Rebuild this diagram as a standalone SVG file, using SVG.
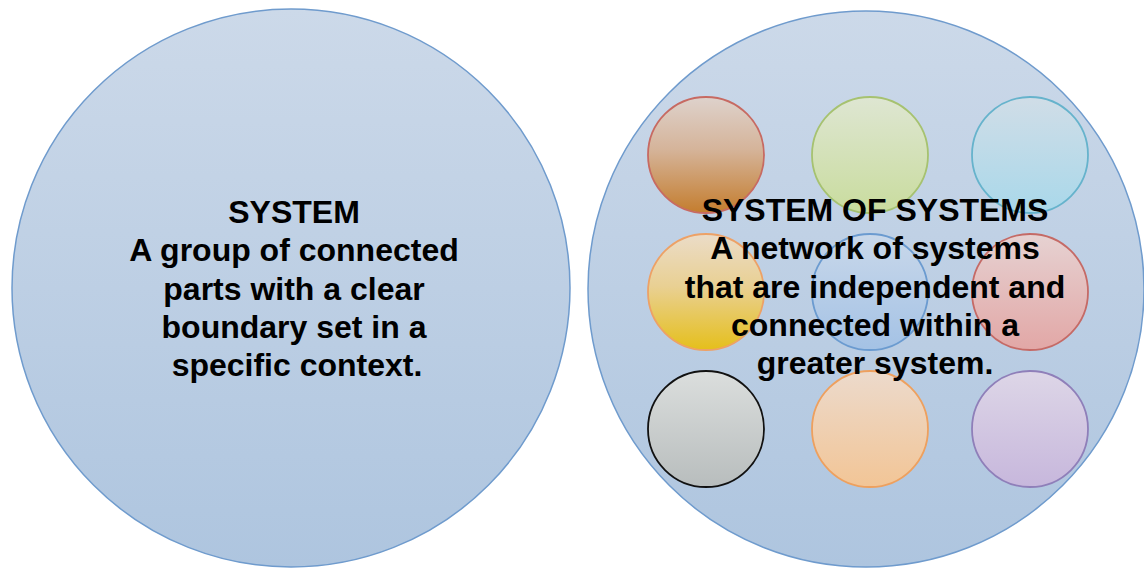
<svg xmlns="http://www.w3.org/2000/svg" width="1144" height="571" viewBox="0 0 1144 571">
  <defs>
    <linearGradient id="gBig" x1="0" y1="0" x2="0" y2="1">
      <stop offset="0" stop-color="#ccd9e9"/>
      <stop offset="1" stop-color="#aec5df"/>
    </linearGradient>
    <linearGradient id="gBrown" x1="0" y1="0" x2="0" y2="1">
      <stop offset="0" stop-color="#ded2cc"/>
      <stop offset="0.45" stop-color="#d5b49a"/>
      <stop offset="1" stop-color="#c47d2e"/>
    </linearGradient>
    <linearGradient id="gGreen" x1="0" y1="0" x2="0" y2="1">
      <stop offset="0" stop-color="#dee6d2"/>
      <stop offset="1" stop-color="#c9dc9e"/>
    </linearGradient>
    <linearGradient id="gCyan" x1="0" y1="0" x2="0" y2="1">
      <stop offset="0" stop-color="#d0dde7"/>
      <stop offset="1" stop-color="#a9d8ea"/>
    </linearGradient>
    <linearGradient id="gYellow" x1="0" y1="0" x2="0" y2="1">
      <stop offset="0" stop-color="#ebdcc8"/>
      <stop offset="0.45" stop-color="#e9d093"/>
      <stop offset="1" stop-color="#e5bf1b"/>
    </linearGradient>
    <linearGradient id="gBlue" x1="0" y1="0" x2="0" y2="1">
      <stop offset="0" stop-color="#c9d8ea"/>
      <stop offset="1" stop-color="#a4c2e5"/>
    </linearGradient>
    <linearGradient id="gRed" x1="0" y1="0" x2="0" y2="1">
      <stop offset="0" stop-color="#e6d2d2"/>
      <stop offset="1" stop-color="#e2a7a6"/>
    </linearGradient>
    <linearGradient id="gGray" x1="0" y1="0" x2="0" y2="1">
      <stop offset="0" stop-color="#dbdedd"/>
      <stop offset="1" stop-color="#b8bdbd"/>
    </linearGradient>
    <linearGradient id="gOrange" x1="0" y1="0" x2="0" y2="1">
      <stop offset="0" stop-color="#ecdacc"/>
      <stop offset="1" stop-color="#f2c596"/>
    </linearGradient>
    <linearGradient id="gPurple" x1="0" y1="0" x2="0" y2="1">
      <stop offset="0" stop-color="#ddd6e7"/>
      <stop offset="1" stop-color="#c7b7dc"/>
    </linearGradient>
  </defs>
  <style>
    .big { fill: url(#gBig); stroke: #6f9bcd; stroke-width: 1.5; }
    .small { stroke-width: 1.8; }
    .label { font-family: "Liberation Sans", Arial, Helvetica, sans-serif; font-weight: bold; font-size: 32px; fill: #000; text-anchor: middle; }
  </style>

  <rect width="1144" height="571" fill="#ffffff"/>

  <!-- Single system -->
  <g id="system">
    <circle class="big" cx="291" cy="288" r="279"/>
  </g>

  <!-- System of systems: outer boundary -->
  <g id="system-of-systems">
    <circle class="big" cx="866" cy="289" r="278"/>
  </g>

  <!-- Member systems, 3 x 3 grid -->
  <g id="member-brown"><circle class="small" cx="706" cy="155" r="58" fill="url(#gBrown)" stroke="#c76a62"/></g>
  <g id="member-green"><circle class="small" cx="870" cy="155" r="58" fill="url(#gGreen)" stroke="#a6c270"/></g>
  <g id="member-cyan"><circle class="small" cx="1030" cy="155" r="58" fill="url(#gCyan)" stroke="#66b3cc"/></g>
  <g id="member-yellow"><circle class="small" cx="706" cy="292" r="58" fill="url(#gYellow)" stroke="#eda166"/></g>
  <g id="member-blue"><circle class="small" cx="870" cy="292" r="58" fill="url(#gBlue)" stroke="#6b9bd0"/></g>
  <g id="member-red"><circle class="small" cx="1030" cy="292" r="58" fill="url(#gRed)" stroke="#c56a66"/></g>
  <g id="member-gray"><circle class="small" cx="706" cy="429" r="58" fill="url(#gGray)" stroke="#111111" stroke-width="2"/></g>
  <g id="member-orange"><circle class="small" cx="870" cy="429" r="58" fill="url(#gOrange)" stroke="#eea05e"/></g>
  <g id="member-purple"><circle class="small" cx="1030" cy="429" r="58" fill="url(#gPurple)" stroke="#8f7fb9"/></g>

  <g id="connectors"/>

  <!-- Labels -->
  <g id="system-label">
    <text class="label" x="294" y="223">SYSTEM</text>
    <text class="label" x="294" y="261">A group of connected</text>
    <text class="label" x="294" y="300">parts with a clear</text>
    <text class="label" x="294" y="338">boundary set in a</text>
    <text class="label" x="297" y="376">specific context.</text>
  </g>
  <g id="system-of-systems-label">
    <text class="label" x="875" y="221">SYSTEM OF SYSTEMS</text>
    <text class="label" x="875" y="259">A network of systems</text>
    <text class="label" x="875" y="298">that are independent and</text>
    <text class="label" x="875" y="336">connected within a</text>
    <text class="label" x="875" y="374">greater system.</text>
  </g>
</svg>
